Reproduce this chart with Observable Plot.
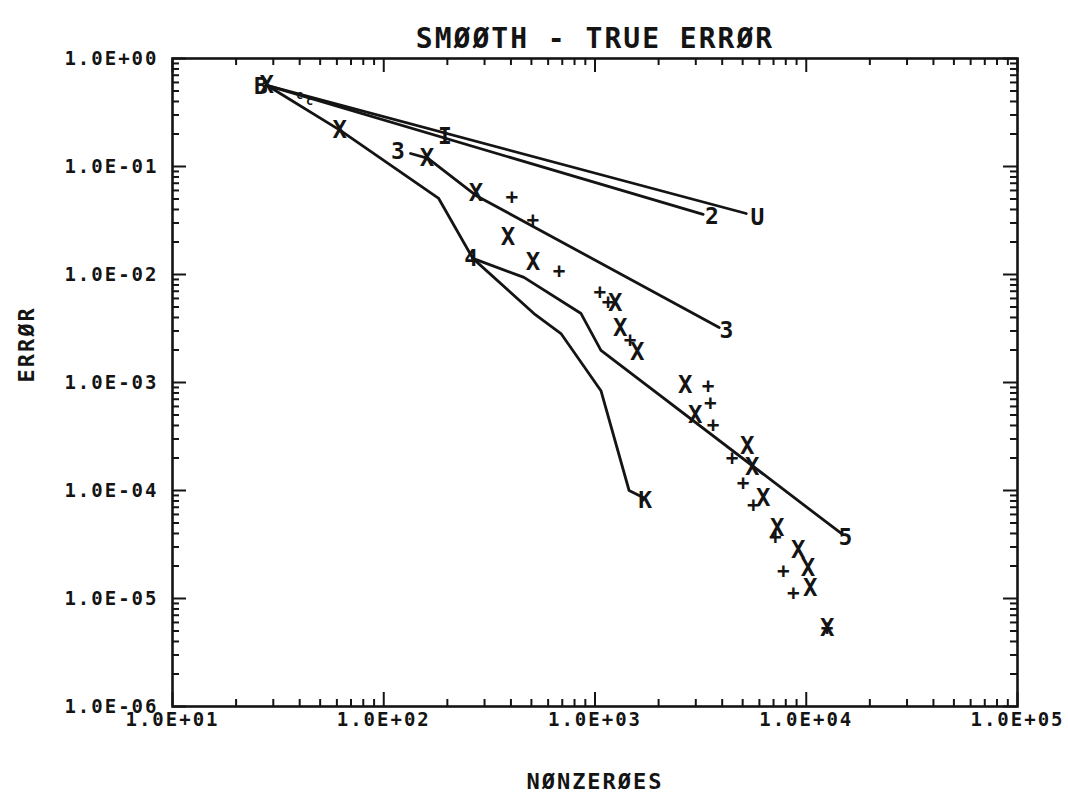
<!DOCTYPE html>
<html>
<head>
<meta charset="utf-8">
<script src="https://cdn.jsdelivr.net/npm/d3@7"></script>
<script src="https://cdn.jsdelivr.net/npm/@observablehq/plot@0.6"></script>
<style>
  html, body { margin: 0; padding: 0; background: #fff; }
</style>
</head>
<body>
<div id="chart"></div>
<script>
// ---- text ----
const titleText = "SMØØTH - TRUE ERRØR";
const xAxisLabel = "NØNZERØES";
const yAxisLabel = "ERRØR";

// ---- axis ticks ----
const xTickValues = [1e1, 1e2, 1e3, 1e4, 1e5];
const xTickLabels = ["1.0E+01", "1.0E+02", "1.0E+03", "1.0E+04", "1.0E+05"];
const yTickValues = [1e0, 1e-1, 1e-2, 1e-3, 1e-4, 1e-5, 1e-6];
const yTickLabels = ["1.0E+00", "1.0E-01", "1.0E-02", "1.0E-03", "1.0E-04", "1.0E-05", "1.0E-06"];
const minorMultipliers = [2, 3, 4, 5, 6, 7, 8, 9];

// ---- line series (nonzeroes, error) ----
const lineU_x = [28.2, 5200];
const lineU_y = [0.56, 0.0367];
const line2_x = [28.2, 3250];
const line2_y = [0.56, 0.036];
const line4_x = [28.2, 62.5, 182, 264];
const line4_y = [0.56, 0.215, 0.0506, 0.0141];
const lineK_x = [264, 514, 690, 1067, 1450, 1690];
const lineK_y = [0.0141, 0.00435, 0.00284, 8.4e-4, 1.0e-4, 8.6e-5];
const line5_x = [264, 461, 859, 1067, 14650];
const line5_y = [0.0141, 0.0094, 0.00435, 0.00198, 4.0e-5];
const line3_x = [134, 162, 273, 3870];
const line3_y = [0.132, 0.119, 0.054, 0.00323];

// ---- scattered markers ----
const crossX = [28.2, 62.5, 162, 276, 391, 514, 1260, 1330, 1600, 2700, 3010, 5310, 5610, 6330, 7360, 9270, 10300, 10560, 12700];
const crossY = [0.56, 0.215, 0.119, 0.056, 0.022, 0.0129, 0.0054, 0.0032, 0.0019, 9.4e-4, 4.95e-4, 2.55e-4, 1.63e-4, 8.4e-5, 4.45e-5, 2.8e-5, 1.9e-5, 1.24e-5, 5.3e-6];
const plusX = [408, 514, 683, 1067, 1165, 1480, 3470, 3550, 3660, 4510, 5080, 5680, 7210, 7870, 8770, 12700];
const plusY = [0.0516, 0.0316, 0.0107, 0.0068, 0.0055, 0.00245, 9.2e-4, 6.4e-4, 4.0e-4, 2.0e-4, 1.16e-4, 7.3e-5, 3.7e-5, 1.78e-5, 1.11e-5, 5.3e-6];

// ---- curve labels ----
const curveLabelText = ["B", "U", "2", "3", "3", "4", "K", "5", "I"];
const curveLabelX = [26.5, 5930, 3620, 118, 4230, 262, 1745, 15500, 197];
const curveLabelY = [0.55, 0.0337, 0.0344, 0.138, 0.00303, 0.0141, 8.1e-5, 3.7e-5, 0.19];
// tiny marks near the common starting point
const smallLabelText = ["c", "c"];
const smallLabelX = [40.4, 45.1];
const smallLabelY = [0.454, 0.40];

// ---- build tables ----
const series = [
  ["U", lineU_x, lineU_y], ["2", line2_x, line2_y], ["4", line4_x, line4_y],
  ["K", lineK_x, lineK_y], ["5", line5_x, line5_y], ["3", line3_x, line3_y]
];
const lineRows = series.flatMap(([name, xs, ys]) => xs.map((x, i) => ({name, x, y: ys[i]})));
const crossRows = crossX.map((x, i) => ({x, y: crossY[i], t: "X"}));
const plusRows = plusX.map((x, i) => ({x, y: plusY[i], t: "+"}));
const labelRows = curveLabelText.map((t, i) => ({t, x: curveLabelX[i], y: curveLabelY[i]}));
const smallRows = smallLabelText.map((t, i) => ({t, x: smallLabelX[i], y: smallLabelY[i]}));
const xTickRows = xTickValues.map((v, i) => ({v, label: xTickLabels[i]}));
const yTickRows = yTickValues.map((v, i) => ({v, label: yTickLabels[i]}));
const xMinor = xTickValues.slice(0, -1).flatMap(v => minorMultipliers.map(m => v * m));
const yMinor = yTickValues.slice(1).flatMap(v => minorMultipliers.map(m => v * m));

const ink = "#141414";
const font = "DejaVu Sans Mono";
const W = 1068, H = 806, mL = 172, mR = 51, mT = 58, mB = 100;
const plotW = W - mL - mR, plotH = H - mT - mB;
const minorLen = 7, majorLen = 14;

const chart = Plot.plot({
  width: W,
  height: H,
  marginLeft: mL,
  marginRight: mR,
  marginTop: mT,
  marginBottom: mB,
  x: {type: "log", domain: [10, 1e5], axis: null},
  y: {type: "log", domain: [1e-6, 1], axis: null},
  style: {fontFamily: font, color: ink, background: "#fff", letterSpacing: "2px"},
  marks: [
    Plot.frame({stroke: ink, strokeWidth: 2.6}),
    // inward ticks on all four sides
    Plot.ruleX(xMinor, {insetTop: plotH - minorLen, stroke: ink, strokeWidth: 2}),
    Plot.ruleX(xTickValues, {insetTop: plotH - majorLen, stroke: ink, strokeWidth: 2}),
    Plot.ruleX(xMinor, {insetBottom: plotH - minorLen, stroke: ink, strokeWidth: 2}),
    Plot.ruleX(xTickValues, {insetBottom: plotH - majorLen, stroke: ink, strokeWidth: 2}),
    Plot.ruleY(yMinor, {insetRight: plotW - minorLen, stroke: ink, strokeWidth: 2}),
    Plot.ruleY(yTickValues, {insetRight: plotW - majorLen, stroke: ink, strokeWidth: 2}),
    Plot.ruleY(yMinor, {insetLeft: plotW - minorLen, stroke: ink, strokeWidth: 2}),
    Plot.ruleY(yTickValues, {insetLeft: plotW - majorLen, stroke: ink, strokeWidth: 2}),
    // tick labels
    Plot.text(xTickRows, {x: "v", text: "label", frameAnchor: "bottom", dy: 19, fontSize: 19, fontWeight: "bold", fill: ink}),
    Plot.text(yTickRows, {y: "v", text: "label", frameAnchor: "left", dx: -14, textAnchor: "end", fontSize: 19, fontWeight: "bold", fill: ink}),
    // axis titles
    Plot.text([xAxisLabel], {frameAnchor: "bottom", dy: 82, fontSize: 22, fontWeight: "bold", fill: ink}),
    Plot.text([yAxisLabel], {frameAnchor: "left", dx: -146, rotate: -90, fontSize: 22, fontWeight: "bold", fill: ink}),
    Plot.text([titleText], {frameAnchor: "top", dy: -30, fontSize: 28, fontWeight: "bold", fill: ink, ariaLabel: "title"}),
    // data
    Plot.line(lineRows, {x: "x", y: "y", z: "name", stroke: ink, strokeWidth: 2.8, strokeLinejoin: "round"}),
    Plot.text(crossRows, {x: "x", y: "y", text: "t", fontSize: 24, fontWeight: "bold", fill: ink}),
    Plot.text(plusRows, {x: "x", y: "y", text: "t", fontSize: 21, fontWeight: "bold", fill: ink}),
    Plot.text(labelRows, {x: "x", y: "y", text: "t", fontSize: 23, fontWeight: "bold", fill: ink}),
    Plot.text(smallRows, {x: "x", y: "y", text: "t", fontSize: 12, fontWeight: "bold", fill: ink})
  ]
});
document.getElementById("chart").appendChild(chart);
d3.select(chart).selectAll('g[aria-label="title"] text').attr("letter-spacing", "3px");
</script>
</body>
</html>
